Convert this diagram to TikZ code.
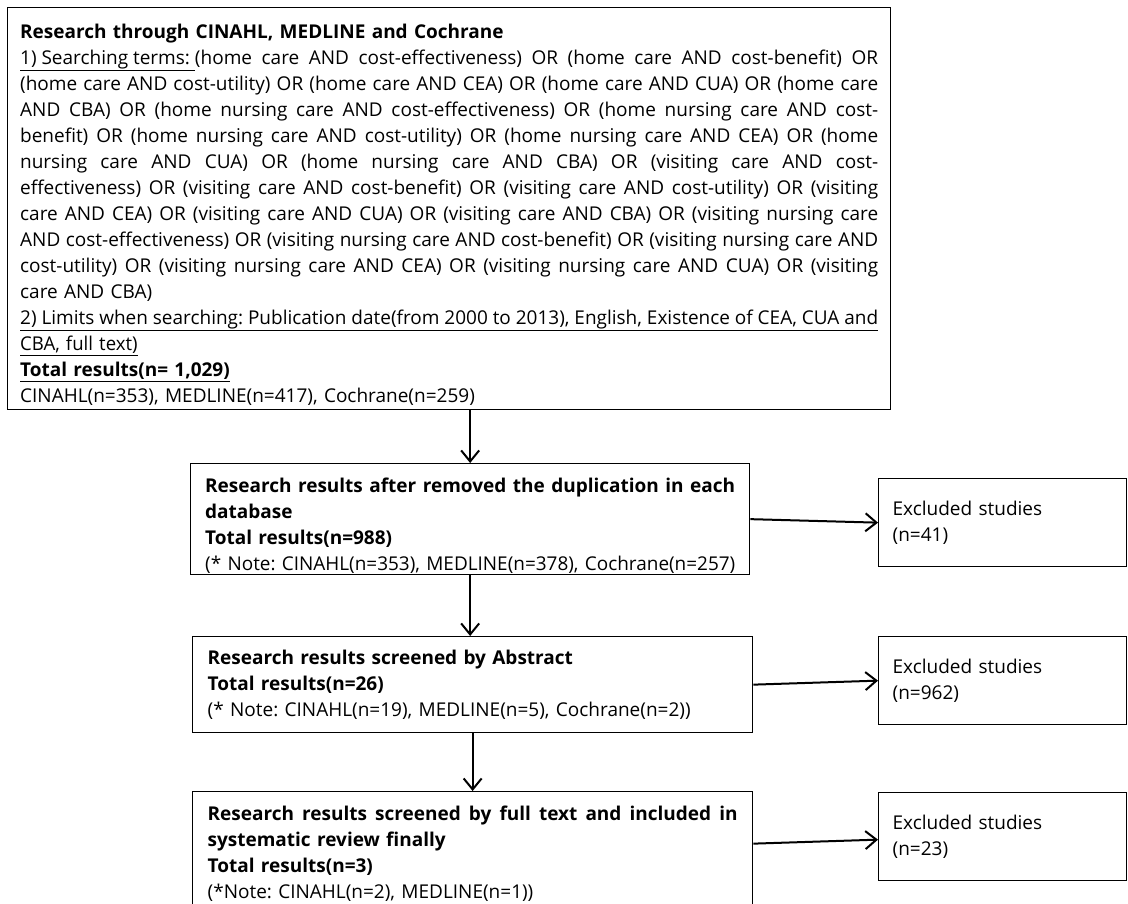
\documentclass[tikz,border=0pt]{standalone}
\usepackage{fontspec}
\setmainfont{Open Sans}
\usepackage{graphicx}
\usetikzlibrary{arrows.meta}
\newlength\jlen
\newcommand\jbox[1]{{\spaceskip=0.26em plus 4em minus 0.05em\relax
  \settowidth\jlen{#1}\ifdim\jlen>\hsize\resizebox{\hsize}{\height}{#1}\else\makebox[\hsize][s]{#1}\fi}}
\newcommand\jline[1]{\noindent\jbox{#1}\par}
\newcommand\fline[1]{\noindent\settowidth\jlen{#1}\ifdim\jlen>\hsize\resizebox{\hsize}{\height}{#1}\else#1\fi\par}
\newcommand\limitsA{2) Limits when searching: Publication date(from 2000 to 2013), English, Existence of CEA, CUA and}
\newcommand\pushdown[1]{\par\vspace*{#1}}
\begin{document}
\begin{tikzpicture}[x=1pt,y=-1pt,
  box/.style={draw, line width=1.3pt, anchor=north west, align=left, inner ysep=0pt,
    font=\fontsize{19}{26}\selectfont\frenchspacing},
  arr/.style={line width=2pt, -{Straight Barb[length=11pt,width=18pt]}}]
\clip (0,0) rectangle (1128,904);
\path[use as bounding box] (0,0) rectangle (1128,904);

\node[box, minimum width=883pt, minimum height=402pt, text width=858pt, inner xsep=12.5pt] (b1) at (7,7) {%
\pushdown{1pt}%
\noindent\textbf{Research through CINAHL, MEDLINE and Cochrane}\par
\jline{\underline{1) Searching terms:\ }(home care AND cost-effectiveness) OR (home care AND cost-benefit) OR}
\jline{(home care AND cost-utility) OR (home care AND CEA) OR (home care AND CUA) OR (home care}
\jline{AND CBA) OR (home nursing care AND cost-effectiveness) OR (home nursing care AND cost-}
\jline{benefit) OR (home nursing care AND cost-utility) OR (home nursing care AND CEA) OR (home}
\jline{nursing care AND CUA) OR (home nursing care AND CBA) OR (visiting care AND cost-}
\jline{effectiveness) OR (visiting care AND cost-benefit) OR (visiting care AND cost-utility) OR (visiting}
\jline{care AND CEA) OR (visiting care AND CUA) OR (visiting care AND CBA) OR (visiting nursing care}
\jline{AND cost-effectiveness) OR (visiting nursing care AND cost-benefit) OR (visiting nursing care AND}
\jline{cost-utility) OR (visiting nursing care AND CEA) OR (visiting nursing care AND CUA) OR (visiting}
\noindent care AND CBA)\par
\settowidth\jlen{\limitsA}\edef\lfac{\fpeval{min(1,\hsize/\jlen)}}%
\noindent\underline{\jbox{\limitsA}}\par
\noindent\underline{\scalebox{\lfac}[1]{CBA, full text)}}\par
\noindent\underline{\textbf{Total results(n= 1,029)}}\par
\noindent CINAHL(n=353), MEDLINE(n=417), Cochrane(n=259)\par};

\node[box, minimum width=559pt, minimum height=111pt, text width=530pt, inner xsep=14.5pt] (b2) at (190,463) {%
\pushdown{1.5pt}%
\jline{\textbf{Research results after removed the duplication in each}}
\noindent\textbf{database}\par
\noindent\textbf{Total results(n=988)}\par
\fline{(* Note: CINAHL(n=353), MEDLINE(n=378), Cochrane(n=257)}};

\node[box, minimum width=560pt, minimum height=96pt, text width=530pt, inner xsep=15pt] (b3) at (192,636) {%
\noindent\textbf{Research results screened by Abstract}\par
\noindent\textbf{Total results(n=26)}\par
\fline{(* Note: CINAHL(n=19), MEDLINE(n=5), Cochrane(n=2))}};

\node[box, minimum width=560pt, minimum height=124pt, text width=530pt, inner xsep=15pt] (b4) at (192,791) {%
\jline{\textbf{Research results screened by full text and included in}}
\noindent\textbf{systematic review finally}\par
\noindent\textbf{Total results(n=3)}\par
\fline{(*Note: CINAHL(n=2), MEDLINE(n=1))}};

\node[box, minimum width=248pt, minimum height=88pt, text width=220pt, inner xsep=14pt] (ex1) at (878,478) {Excluded studies\\(n=41)};
\node[box, minimum width=248pt, minimum height=88pt, text width=220pt, inner xsep=14pt] (ex2) at (878,636) {Excluded studies\\(n=962)};
\node[box, minimum width=248pt, minimum height=88pt, text width=220pt, inner xsep=14pt] (ex3) at (878,792) {Excluded studies\\(n=23)};

\draw[arr] (b2.north |- b1.south) -- (b2.north);
\draw[arr] (b2.south) -- (b2.south |- b3.north);
\draw[arr] (b3.south) -- (b3.south |- b4.north);
\draw[arr] (b2.east) -- (ex1.west);
\draw[arr] (b3.east) -- (ex2.west);
\draw[arr] ([yshift=10pt]b4.east) -- ([yshift=-3pt]ex3.west);
\end{tikzpicture}
\end{document}
